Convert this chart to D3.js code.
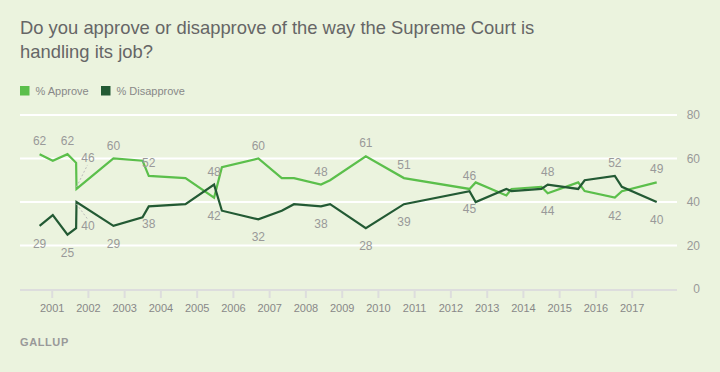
<!DOCTYPE html>
<html>
<head>
<meta charset="utf-8">
<script src="https://cdn.jsdelivr.net/npm/d3@7"></script>
<style>
  body { margin: 0; background: #ebf3de; }
  svg { display: block; font-family: "Liberation Sans", Arial, sans-serif; }
</style>
</head>
<body>
<div id="chart"></div>
<script>
// poll dates, % approve, % disapprove
var dates = ["2000-09-01", "2001-01-12", "2001-06-09", "2001-09-04", "2001-09-08",
  "2002-09-15", "2003-07-05", "2003-09-06", "2004-09-10", "2005-06-25",
  "2005-09-12", "2006-09-14", "2007-05-08", "2007-09-08", "2008-06-06",
  "2008-09-06", "2009-09-01", "2010-09-20", "2012-07-12", "2012-09-12",
  "2013-07-18", "2013-09-08", "2014-07-06", "2014-09-08", "2015-07-12",
  "2015-09-15", "2016-07-15", "2016-09-24", "2017-09-10"];
var approve = [62, 59, 62, 58, 46, 60, 59, 52, 51, 42, 56, 60, 51, 51, 48, 50, 61, 51,
  46, 49, 43, 46, 47, 44, 49, 45, 42, 45, 49];
var disapprove = [29, 34, 25, 28, 40, 29, 33, 38, 39, 48, 36, 32, 36, 39, 38, 39, 28, 39,
  45, 40, 46, 45, 46, 48, 46, 50, 52, 47, 40];
// which points carry a value label: "a" above, "b" below, "l" leader line
var approveLabels = ["a", "", "a", "", "l", "a", "", "a", "", "b", "", "a", "", "", "a",
  "", "a", "a", "a", "", "", "", "", "b", "", "", "b", "", "a"];
var disapproveLabels = ["b", "", "b", "", "l", "b", "", "b", "", "a", "", "b", "", "", "b",
  "", "b", "b", "b", "", "", "", "", "a", "", "", "a", "", "b"];
var yTicks = [0, 20, 40, 60, 80];
var xTicks = d3.range(2001, 2018);

var width = 720, height = 372;
var parse = d3.timeParse("%Y-%m-%d");
var svg = d3.select("#chart").append("svg").attr("width", width).attr("height", height);

var x = d3.scaleTime().domain([new Date(2001, 0, 1), new Date(2017, 0, 1)]).range([51.7, 631.7]);
var y = d3.scaleLinear().domain([0, 80]).range([289, 115]);

// title
var title = svg.append("text").attr("x", 20).attr("y", 34).attr("fill", "#666")
  .style("font-size", "18.4px");
title.append("tspan").attr("x", 20).text("Do you approve or disapprove of the way the Supreme Court is");
title.append("tspan").attr("x", 20).attr("dy", 23.5).text("handling its job?");

// legend
var legend = [["% Approve", "#5bbf4b"], ["% Disapprove", "#235a34"]];
var lx = [20, 101];
legend.forEach(function(d, i) {
  svg.append("rect").attr("x", lx[i]).attr("y", 86).attr("width", 9.5).attr("height", 9.5).attr("fill", d[1]);
  svg.append("text").attr("x", lx[i] + 15.5).attr("y", 95).attr("fill", "#888")
    .style("font-size", "11px").text(d[0]);
});

// grid
svg.append("g").selectAll("line").data(yTicks.filter(function(d) { return d > 0; })).enter()
  .append("line")
  .attr("x1", 20).attr("x2", 677)
  .attr("y1", function(d) { return y(d); }).attr("y2", function(d) { return y(d); })
  .attr("stroke", "#fff").attr("stroke-width", 2);

svg.append("g").selectAll("text").data(yTicks).enter().append("text")
  .attr("x", 700).attr("y", function(d) { return y(d) + 4; })
  .attr("text-anchor", "end").attr("fill", "#999").style("font-size", "12px")
  .text(function(d) { return d; });

// x axis
var xAxis = d3.axisBottom(x)
  .tickValues(xTicks.map(function(d) { return new Date(d, 0, 1); }))
  .tickFormat(d3.timeFormat("%Y")).tickSize(8).tickPadding(6);
var gx = svg.append("g").attr("transform", "translate(0,290)").call(xAxis);
gx.select(".domain").remove();
gx.selectAll(".tick line").attr("stroke", "#ddd").attr("stroke-width", 2);
gx.selectAll(".tick text").attr("fill", "#888").style("font-size", "11px")
  .style("font-family", "'Liberation Sans', Arial, sans-serif");
svg.append("line").attr("x1", 20).attr("x2", 677).attr("y1", 290).attr("y2", 290)
  .attr("stroke", "#ddd").attr("stroke-width", 2);

// lines
var rows = dates.map(function(d, i) {
  return { date: parse(d), a: approve[i], d: disapprove[i], la: approveLabels[i], ld: disapproveLabels[i] };
});
var series = [["a", "la", "#5bbf4b"], ["d", "ld", "#235a34"]];

series.forEach(function(s) {
  var line = d3.line()
    .x(function(r) { return x(r.date); })
    .y(function(r) { return y(r[s[0]]); });
  svg.append("path").datum(rows).attr("d", line)
    .attr("fill", "none").attr("stroke", s[2]).attr("stroke-width", 2.2)
    .attr("stroke-linejoin", "miter");
});

// value labels
series.forEach(function(s) {
  rows.forEach(function(r) {
    var pos = r[s[1]];
    if (!pos) return;
    var px = x(r.date), py = y(r[s[0]]);
    var tx = px, ty;
    if (pos === "a") ty = py - 9;
    else if (pos === "b") ty = py + 22;
    else {
      var up = s[0] === "a";
      var ex = px + 11, ey = up ? py - 24 : py + 17;
      svg.append("line").attr("x1", px).attr("y1", py + (up ? -2 : 2)).attr("x2", ex).attr("y2", ey)
        .attr("stroke", "#bbb").attr("stroke-width", 1).attr("stroke-dasharray", "2,2");
      tx = ex + 0.5;
      ty = up ? ey - 3 : ey + 11;
    }
    svg.append("text").attr("x", tx).attr("y", ty).attr("text-anchor", "middle")
      .attr("fill", "#999").style("font-size", "12px").text(r[s[0]]);
  });
});

// source
svg.append("text").attr("x", 20).attr("y", 346).attr("fill", "#999")
  .style("font-size", "11px").style("font-weight", "bold").style("letter-spacing", "0.6px")
  .text("GALLUP");
</script>
</body>
</html>
